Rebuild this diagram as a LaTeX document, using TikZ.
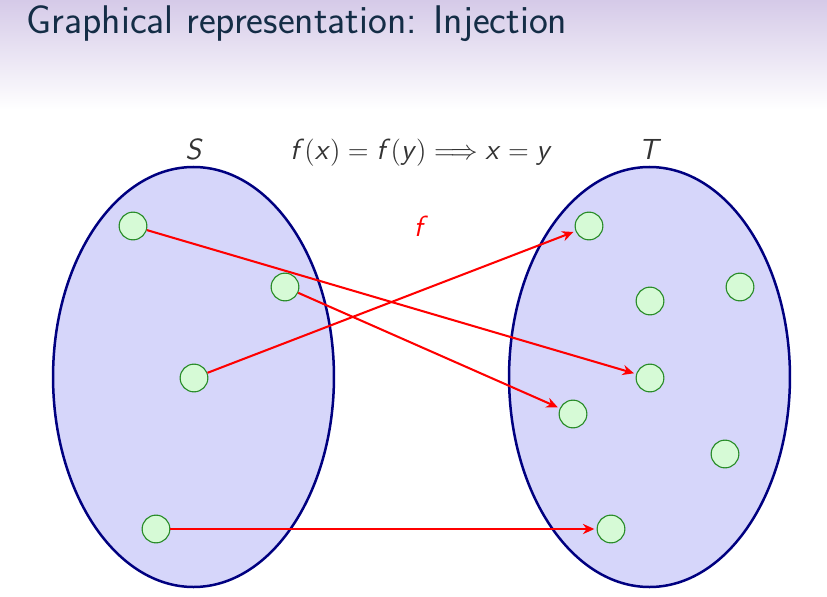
\documentclass[tikz,border=0pt]{standalone}
\usetikzlibrary{arrows.meta, shapes.geometric}
\definecolor{titlefg}{RGB}{20, 45, 70}
\definecolor{headbg}{RGB}{213, 202, 232}
\definecolor{setfill}{RGB}{214, 214, 250}
\definecolor{setdraw}{RGB}{0, 0, 128}
\definecolor{elemfill}{RGB}{214, 250, 214}
\definecolor{elemdraw}{RGB}{40, 140, 40}
\renewcommand{\familydefault}{\sfdefault}
\newcommand{\mv}[1]{\mbox{\sffamily\slshape #1\/}}

\begin{document}
\begin{tikzpicture}[x=0.44pt, y=-0.44pt,
        setbox/.style={ellipse, draw=setdraw, line width=1.1pt, fill=setfill,
            minimum width=123.6pt, minimum height=184.8pt, inner sep=0pt},
        elem/.style={circle, draw=elemdraw, fill=elemfill, line width=0.5pt,
            minimum size=12.2pt, inner sep=0pt},
        maps/.style={red, line width=0.9pt, -{Stealth[length=5pt, width=4.5pt]},
            shorten >=1pt},
        lbl/.style={font=\fontsize{12.8}{14}\selectfont, anchor=base,
            text=black!80}
    ]
    \useasboundingbox (0, 0) rectangle (827, 596);
    % frame title
    \shade[top color=headbg, bottom color=white] (0, 0) rectangle (827, 110);
    \node[anchor=base west, inner sep=0pt, text=titlefg,
        font=\fontsize{17.6}{20}\selectfont] (title) at (26, 34)
        {Graphical representation: Injection};

    % the two sets
    \node[setbox] (S) at (193.5, 377) {};
    \node[setbox] (T) at (649.5, 377) {};
    \node[lbl] (Slbl) at (194, 160) {\mv{S}};
    \node[lbl] (Tlbl) at (650, 160) {\mv{T}};
    \node[lbl] (rule) at (421, 160)
        {$\mv{f}(\mv{x}) = \mv{f}(\mv{y}) \Longrightarrow \mv{x} = \mv{y}$};
    \node[lbl, text=red] (fname) at (421, 236) {\mv{f}};

    % elements of S
    \node[elem] (s1) at (133, 226) {};
    \node[elem] (s2) at (285, 287) {};
    \node[elem] (s3) at (194, 378) {};
    \node[elem] (s4) at (156, 529) {};
    % elements of T
    \node[elem] (t1) at (589, 226) {};
    \node[elem] (t2) at (650, 301) {};
    \node[elem] (t3) at (740, 287) {};
    \node[elem] (t4) at (650, 378) {};
    \node[elem] (t5) at (573, 414) {};
    \node[elem] (t6) at (725, 454) {};
    \node[elem] (t7) at (611, 529) {};

    \draw[maps] (s1) -- (t4);
    \draw[maps] (s2) -- (t5);
    \draw[maps] (s3) -- (t1);
    \draw[maps] (s4) -- (t7);
\end{tikzpicture}
\end{document}
